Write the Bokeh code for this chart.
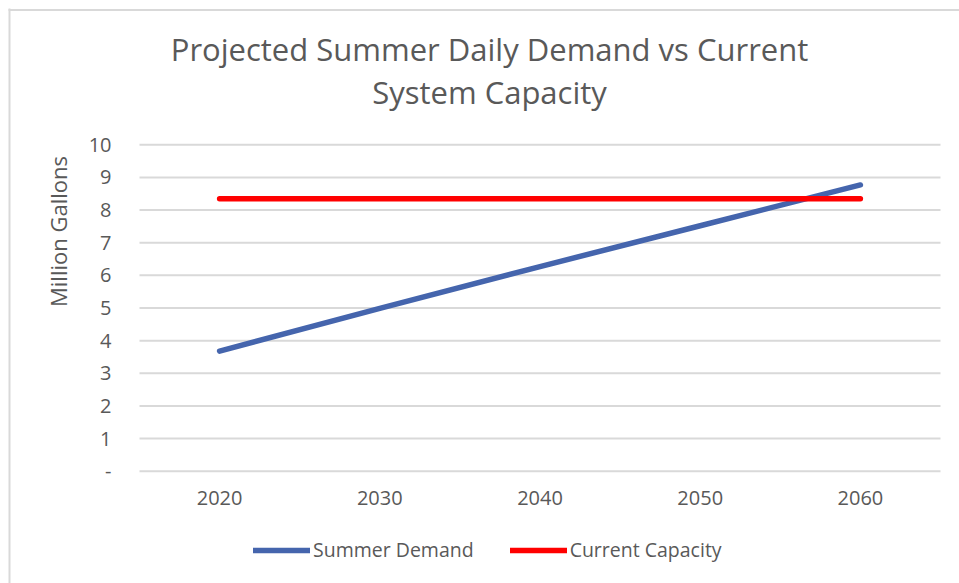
import math
from bokeh.plotting import figure
from bokeh.models import Range1d, Legend, LegendItem
from bokeh.core.properties import value
from bokeh.embed import file_html
from bokeh.resources import INLINE

# ---- data ----
years = [2020, 2030, 2040, 2050, 2060]
summer_demand = [3.68, 4.99, 6.27, 7.52, 8.77]
current_capacity = [8.35, 8.35, 8.35, 8.35, 8.35]
y_ticks = [0, 1, 2, 3, 4, 5, 6, 7, 8, 9, 10]
y_tick_labels = ["-" if t == 0 else str(t) for t in y_ticks]
x_tick_labels = [str(y) for y in years]
title_lines = ["Projected Summer Daily Demand vs Current", "System Capacity"]
y_axis_title = "Million Gallons"
series_names = ["Summer Demand", "Current Capacity"]

# ---- layout geometry (canvas pixels) ----
W, H = 959, 583
PLOT_LEFT_PX, PLOT_RIGHT_PX = 139, 940      # category band edges
Y0_PX, Y10_PX = 470.7, 144.3                # value 0 and value 10
x_lo, x_hi = years[0] - 5, years[-1] + 5    # category band edges in data
xs = (PLOT_RIGHT_PX - PLOT_LEFT_PX) / (x_hi - x_lo)
ys = (Y0_PX - Y10_PX) / (y_ticks[-1] - y_ticks[0])
x_start = x_lo - PLOT_LEFT_PX / xs
x_end = x_hi + (W - PLOT_RIGHT_PX) / xs
y_end = y_ticks[-1] + Y10_PX / ys
y_start = y_ticks[0] - (H - Y0_PX) / ys


def px_x(px):
    return x_start + px / xs


def px_y(py):
    return y_end - py / ys


FONT = "Open Sans"
GREY = "#595959"
GRID = "#d9d9d9"

p = figure(width=W, height=H, output_backend="svg", toolbar_location=None,
           x_range=Range1d(x_start, x_end), y_range=Range1d(y_start, y_end),
           x_axis_location=None, y_axis_location=None,
           min_border=0, min_border_left=0, min_border_right=0,
           min_border_top=0, min_border_bottom=0)
p.outline_line_color = None
p.grid.visible = False
p.background_fill_color = "white"
p.border_fill_color = "white"

# chart-area border (top and left edges visible)
p.segment(x0=[px_x(8), px_x(9)], y0=[px_y(9.5), px_y(8)],
          x1=[px_x(W), px_x(9)], y1=[px_y(9.5), px_y(H)],
          line_color=GRID, line_width=2)

# horizontal gridlines
p.segment(x0=[x_lo] * len(y_ticks), x1=[x_hi] * len(y_ticks),
          y0=y_ticks, y1=y_ticks, line_color=GRID, line_width=2)

# title
p.text(x=[px_x(489)] * 2, y=[px_y(48.5), px_y(91.5)], text=title_lines,
       text_font=value(FONT), text_font_size="31px", text_color=GREY,
       text_align="center", text_baseline="middle")

# y tick labels
p.text(x=[px_x(111)] * len(y_ticks), y=y_ticks, text=y_tick_labels,
       text_font=value(FONT), text_font_size="20px", text_color=GREY,
       text_align="right", text_baseline="middle")

# y axis title
p.text(x=[px_x(57)], y=[px_y(231)], text=[y_axis_title], angle=math.pi / 2,
       text_font=value(FONT), text_font_size="22px", text_color=GREY,
       text_align="center", text_baseline="middle")

# x tick labels
p.text(x=years, y=[px_y(497.5)] * len(years), text=x_tick_labels,
       text_font=value(FONT), text_font_size="20px", text_color=GREY,
       text_align="center", text_baseline="middle")

# series
r1 = p.line(years, summer_demand, line_color="#4565AD", line_width=5.5, line_cap="round")
r2 = p.line(years, current_capacity, line_color="#FF0000", line_width=5.5, line_cap="round")

legend = Legend(items=[LegendItem(label=series_names[0], renderers=[r1]),
                       LegendItem(label=series_names[1], renderers=[r2])],
                orientation="horizontal", location=(253, 20),
                glyph_width=57, glyph_height=20, label_height=20,
                label_standoff=3, spacing=36,
                padding=0, margin=0, border_line_color=None,
                background_fill_alpha=0, label_text_font=FONT,
                label_text_font_size="19.5px", label_text_color=GREY)
p.add_layout(legend, "center")

open("out.html", "w").write(file_html(p, INLINE))
